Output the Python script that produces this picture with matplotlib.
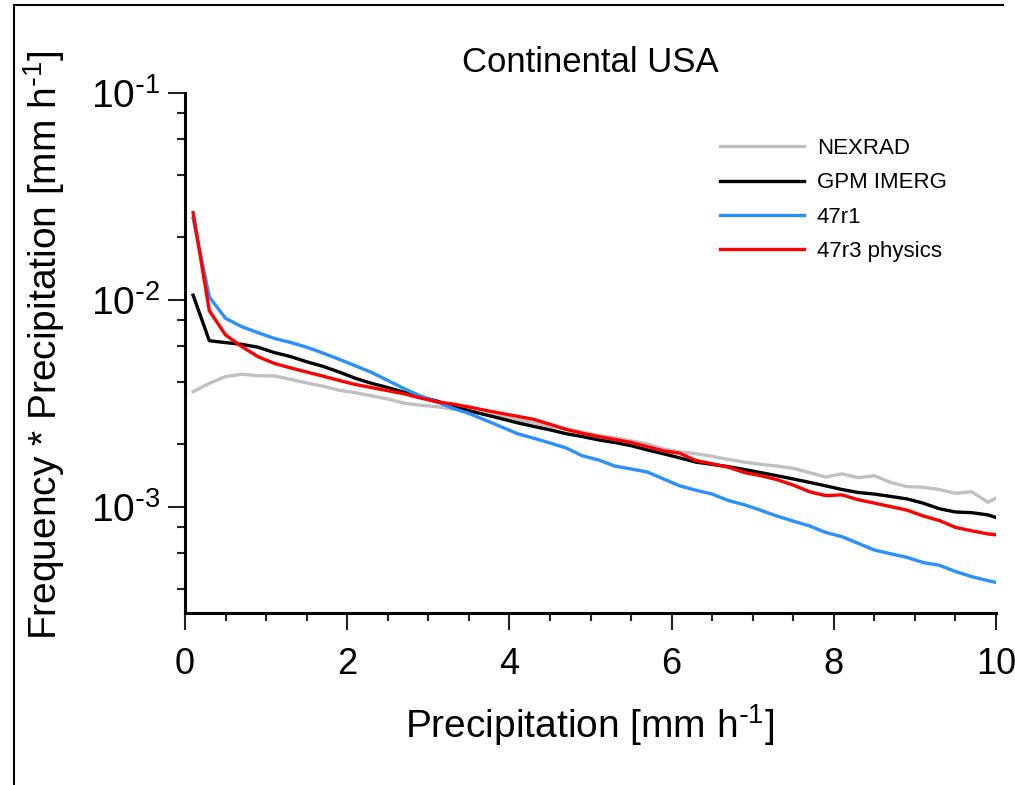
import matplotlib
matplotlib.use("Agg")
import matplotlib.pyplot as plt
from matplotlib.lines import Line2D
from matplotlib.ticker import LogLocator, MultipleLocator, NullFormatter, FixedLocator, FuncFormatter
import math

plt.rcParams['font.family'] = ['Liberation Sans', 'DejaVu Sans']

# bin centres [mm/h]
precip = [0.1, 0.3, 0.5, 0.7, 0.9, 1.1, 1.3, 1.5, 1.7, 1.9,
          2.1, 2.3, 2.5, 2.7, 2.9, 3.1, 3.3, 3.5, 3.7, 3.9,
          4.1, 4.3, 4.5, 4.7, 4.9, 5.1, 5.3, 5.5, 5.7, 5.9,
          6.1, 6.3, 6.5, 6.7, 6.9, 7.1, 7.3, 7.5, 7.7, 7.9,
          8.1, 8.3, 8.5, 8.7, 8.9, 9.1, 9.3, 9.5, 9.7, 9.9, 10.1]

nexrad = [0.00359, 0.00394, 0.00425, 0.00436, 0.00429, 0.00428, 0.00412, 0.00396, 0.00382, 0.00365,
          0.00355, 0.00343, 0.00331, 0.00316, 0.00309, 0.00304, 0.00296, 0.00288, 0.00280, 0.00271,
          0.00263, 0.00254, 0.00245, 0.00237, 0.00229, 0.00221, 0.00215, 0.00208, 0.00201, 0.00190,
          0.00184, 0.00180, 0.00175, 0.00169, 0.00164, 0.00160, 0.00157, 0.00153, 0.00146, 0.00139,
          0.00144, 0.00138, 0.00141, 0.00131, 0.00125, 0.00124, 0.00121, 0.00116, 0.00118, 0.00105, 0.00115]

gpm_imerg = [0.0105, 0.00633, 0.00620, 0.00608, 0.00589, 0.00555, 0.00531, 0.00501, 0.00476, 0.00447,
             0.00417, 0.00394, 0.00376, 0.00357, 0.00339, 0.00324, 0.00305, 0.00291, 0.00278, 0.00266,
             0.00254, 0.00244, 0.00235, 0.00225, 0.00218, 0.00210, 0.00204, 0.00197, 0.00188, 0.00180,
             0.00172, 0.00164, 0.00160, 0.00156, 0.00151, 0.00146, 0.00141, 0.00136, 0.00131, 0.00126,
             0.00121, 0.00117, 0.00115, 0.00112, 0.00109, 0.00104, 0.000977, 0.000942, 0.000935, 0.000912, 0.000861]

r47r1 = [0.0247, 0.0103, 0.00812, 0.00740, 0.00692, 0.00650, 0.00621, 0.00589, 0.00552, 0.00515,
         0.00479, 0.00445, 0.00407, 0.00372, 0.00343, 0.00321, 0.00299, 0.00282, 0.00262, 0.00243,
         0.00225, 0.00214, 0.00203, 0.00192, 0.00176, 0.00168, 0.00157, 0.00152, 0.00147, 0.00136,
         0.00126, 0.00120, 0.00115, 0.00107, 0.00102, 0.000960, 0.000900, 0.000851, 0.000807, 0.000750,
         0.000716, 0.000665, 0.000617, 0.000592, 0.000569, 0.000537, 0.000521, 0.000486, 0.000459, 0.000439, 0.000422]

r47r3 = [0.0263, 0.00884, 0.00675, 0.00593, 0.00530, 0.00492, 0.00468, 0.00447, 0.00427, 0.00407,
         0.00389, 0.00376, 0.00363, 0.00351, 0.00335, 0.00321, 0.00313, 0.00303, 0.00292, 0.00282,
         0.00273, 0.00264, 0.00250, 0.00236, 0.00226, 0.00218, 0.00211, 0.00204, 0.00195, 0.00186,
         0.00181, 0.00167, 0.00161, 0.00155, 0.00146, 0.00141, 0.00135, 0.00127, 0.00118, 0.00113,
         0.00114, 0.00108, 0.00104, 0.00100, 0.000962, 0.000902, 0.000857, 0.000794, 0.000764, 0.000738, 0.000724]

series_names = ["NEXRAD", "GPM IMERG", "47r1", "47r3 physics"]
series_vals = [nexrad, gpm_imerg, r47r1, r47r3]
series_colors = ["#c0c0c0", "#000000", "#2b8fff", "#ff0000"]

x_ticks = [0, 2, 4, 6, 8, 10]
y_ticks = [1e-3, 1e-2, 1e-1]

fig = plt.figure(figsize=(10.15, 7.85), dpi=100)
ax = fig.add_axes([185 / 1015, 1 - 612.5 / 785, (996 - 185) / 1015, (612.5 - 92.6) / 785])

for name, vals, col in zip(series_names, series_vals, series_colors):
    ax.plot(precip, vals, color=col, lw=2.4, label=name, solid_joinstyle='round')

ax.set_yscale('log')
ax.set_xlim(0, 10)
ax.set_ylim(3.08e-4, 1e-1)

ax.xaxis.set_major_locator(FixedLocator(x_ticks))
ax.xaxis.set_minor_locator(MultipleLocator(0.5))
ax.yaxis.set_major_locator(FixedLocator(y_ticks))
ax.yaxis.set_major_formatter(FuncFormatter(
    lambda v, p: r"10$^{\mathregular{\text{-}%d}}$" % int(round(-math.log10(v)))))
ax.yaxis.set_minor_locator(LogLocator(base=10, subs=(2, 4, 6, 8), numticks=10))
ax.yaxis.set_minor_formatter(NullFormatter())

for s in ['top', 'right']:
    ax.spines[s].set_visible(False)
for s in ['left', 'bottom']:
    ax.spines[s].set_linewidth(2.2)

ax.tick_params(which='major', direction='out', length=12, width=1.5, color='#222222')
ax.tick_params(which='minor', direction='out', length=6, width=1.5, color='#222222')
ax.tick_params(axis='x', which='major', pad=13, labelsize=26)
ax.tick_params(axis='y', which='major', pad=6, labelsize=28)

fig.text(590 / 1015, 1 - 63 / 785, "Continental USA", ha='center', va='center', fontsize=25)
fig.text(590 / 1015, 1 - 738 / 785, r"Precipitation [mm h$^{\mathregular{\text{-}1}}$]", ha='center',
         va='baseline', fontsize=28)
fig.text(67 / 1015, 1 - 345 / 785, r"Frequency * Precipitation [mm h$^{\mathregular{\text{-}1}}$]",
         ha='right', va='center', rotation=90, fontsize=28, rotation_mode='default')

leg = ax.legend(loc='upper left', bbox_to_anchor=(720 / 1015, 1 - 138 / 785),
                bbox_transform=fig.transFigure, frameon=False, fontsize=16,
                handlelength=3.8, handletextpad=0.55, labelspacing=0.6,
                borderpad=0, borderaxespad=0)

# page frame (top and left edges)
fig.add_artist(Line2D([14 / 1015, 1003 / 1015], [1 - 5 / 785, 1 - 5 / 785], color='black', lw=1.5,
                      transform=fig.transFigure))
fig.add_artist(Line2D([14 / 1015, 14 / 1015], [0, 1 - 5 / 785], color='black', lw=1.5,
                      transform=fig.transFigure))

fig.savefig("out.png", dpi=100)
